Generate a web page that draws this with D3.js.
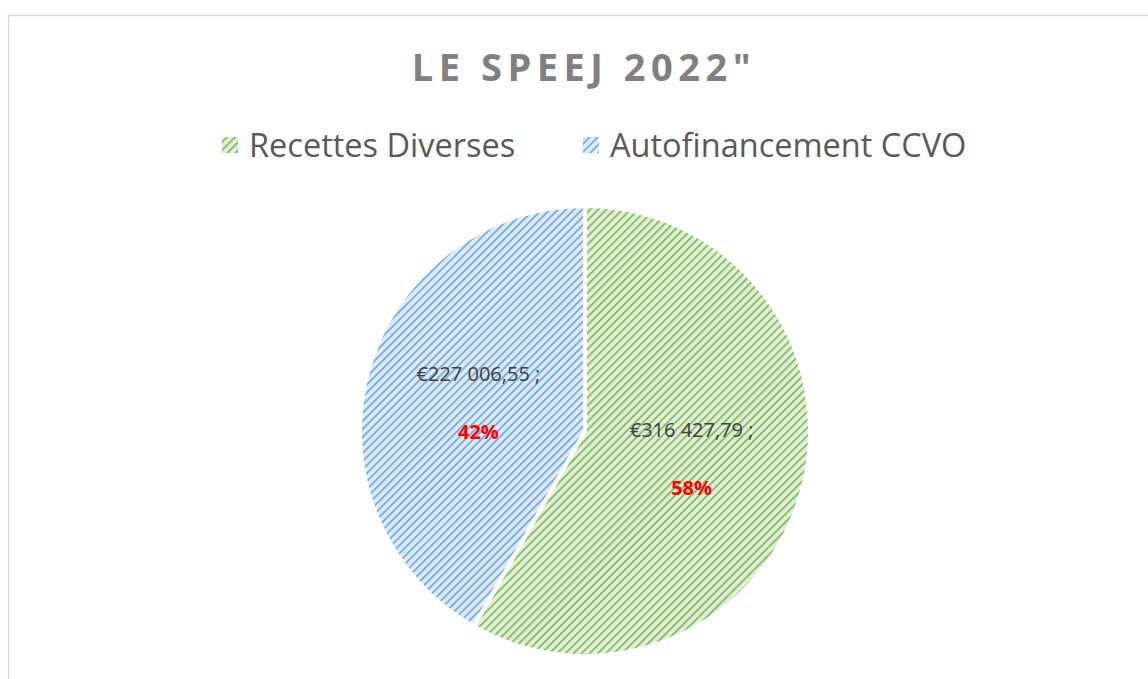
<!DOCTYPE html>
<html>
<head>
<meta charset="utf-8">
<script src="https://cdn.jsdelivr.net/npm/d3@7"></script>
<style>
  body { margin: 0; background: #fff; }
  svg { display: block; }
</style>
</head>
<body>
<div id="chart"></div>
<script>
// data
const categories = ["Recettes Diverses", "Autofinancement CCVO"]
const amounts = [316427.79, 227006.55]
const amountLabels = ["€316 427,79 ;", "€227 006,55 ;"]
const percentLabels = ["58%", "42%"]
const stripeColors = ["#70ad47", "#5b9bd5"]
const backColors = ["#e2f0d9", "#deebf7"]

const width = 1148
const height = 679

const svg = d3.select("#chart").append("svg")
  .attr("width", width)
  .attr("height", height)

// hatched fills
const defs = svg.append("defs")
categories.forEach((c, i) => {
  const p = defs.append("pattern")
    .attr("id", "hatch" + i)
    .attr("patternUnits", "userSpaceOnUse")
    .attr("width", 5.7)
    .attr("height", 5.7)
    .attr("patternTransform", "rotate(45)")
  p.append("rect").attr("width", 5.7).attr("height", 5.7).attr("fill", backColors[i])
  p.append("rect").attr("x", 0).attr("width", 2).attr("height", 5.7).attr("fill", stripeColors[i]).attr("opacity", 0.75)
})

// chart area border
svg.append("rect")
  .attr("x", 8.5).attr("y", 15.5)
  .attr("width", width + 20).attr("height", height + 20)
  .attr("fill", "none")
  .attr("stroke", "#d9d9d9")
  .attr("stroke-width", 1.5)

// title
svg.append("text")
  .text("LE SPEEJ 2022\"")
  .attr("x", 584).attr("y", 81)
  .attr("text-anchor", "middle")
  .attr("font-family", "Open Sans, sans-serif")
  .attr("font-weight", "bold")
  .attr("font-size", 38)
  .attr("letter-spacing", 5.5)
  .attr("fill", "#808080")

// legend
const legendX = [222, 583]
categories.forEach((c, i) => {
  svg.append("rect")
    .attr("x", legendX[i]).attr("y", 137)
    .attr("width", 16).attr("height", 16)
    .attr("fill", "url(#hatch" + i + ")")
  svg.append("text")
    .text(c)
    .attr("x", legendX[i] + 27).attr("y", 157)
    .attr("font-family", "Open Sans, sans-serif")
    .attr("font-size", 32.5)
    .attr("fill", "#595959")
})

// pie
const cx = 585, cy = 431, R = 225
const pie = d3.pie().sort(null).value(d => d)
const arc = d3.arc().innerRadius(0).outerRadius(R)
const labelArc = d3.arc().innerRadius(R * 0.49).outerRadius(R * 0.49)

const g = svg.append("g").attr("transform", "translate(" + cx + "," + cy + ")")
const slices = pie(amounts)

g.selectAll("path")
  .data(slices)
  .enter()
  .append("path")
    .attr("d", arc)
    .attr("fill", (d, i) => "url(#hatch" + i + ")")
    .attr("stroke", "#fff")
    .attr("stroke-width", 4)

const labels = g.selectAll("g.label")
  .data(slices)
  .enter()
  .append("g")
    .attr("class", "label")
    .attr("transform", d => "translate(" + labelArc.centroid(d) + ")")

labels.append("text")
  .text((d, i) => amountLabels[i])
  .attr("y", -22)
  .attr("text-anchor", "middle")
  .attr("font-family", "Open Sans, sans-serif")
  .attr("font-size", 20)
  .attr("fill", "#404040")

labels.append("text")
  .text((d, i) => percentLabels[i])
  .attr("y", 36)
  .attr("text-anchor", "middle")
  .attr("font-family", "Open Sans, sans-serif")
  .attr("font-weight", "bold")
  .attr("font-size", 20)
  .attr("fill", "#ff0000")
</script>
</body>
</html>
